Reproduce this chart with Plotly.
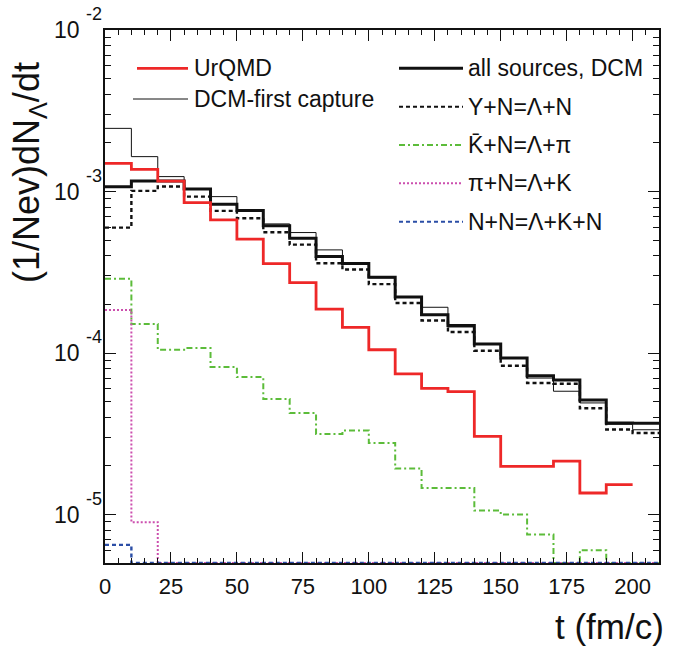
import math
import plotly.graph_objects as go

# Time bins (fm/c): 10 fm/c wide, 0..210
t_edges = [0, 10, 20, 30, 40, 50, 60, 70, 80, 90, 100,
           110, 120, 130, 140, 150, 160, 170, 180, 190, 200, 210]

# (1/Nev) dN_Lambda/dt per bin
urqmd = [1.495e-3, 1.373e-3, 1.16e-3, 8.54e-4, 6.67e-4, 5.07e-4, 3.58e-4,
         2.73e-4, 1.87e-4, 1.44e-4, 1.048e-4, 7.43e-5, 6.05e-5, 5.77e-5,
         3.05e-5, 1.99e-5, 1.99e-5, 2.14e-5, 1.36e-5, 1.53e-5]
dcm_first = [2.46e-3, 1.644e-3, 1.237e-3, 1.04e-3, 9.30e-4, 7.62e-4, 6.30e-4,
             5.57e-4, 4.35e-4, 3.57e-4, 2.92e-4, 2.22e-4, 1.92e-4, 1.45e-4,
             1.136e-4, 9.31e-5, 7.0e-5, 5.8e-5, 4.91e-5, 3.62e-5, 3.35e-5]
dcm_all = [1.07e-3, 1.163e-3, 1.163e-3, 1.038e-3, 8.34e-4, 7.62e-4, 6.13e-4,
           5.14e-4, 3.96e-4, 3.58e-4, 2.95e-4, 2.22e-4, 1.725e-4, 1.48e-4,
           1.136e-4, 9.31e-5, 7.24e-5, 6.8e-5, 5.12e-5, 3.69e-5, 3.67e-5]
yn = [5.98e-4, 1.009e-3, 1.073e-3, 9.30e-4, 7.59e-4, 6.83e-4, 5.60e-4,
      4.69e-4, 3.60e-4, 3.29e-4, 2.67e-4, 2.04e-4, 1.59e-4, 1.35e-4,
      1.033e-4, 8.35e-5, 6.52e-5, 6.45e-5, 4.55e-5, 3.36e-5, 3.2e-5]
kbar_n = [2.88e-4, 1.51e-4, 1.048e-4, 1.073e-4, 8.19e-5, 7.10e-5, 5.19e-5,
          4.25e-5, 3.15e-5, 3.31e-5, 2.77e-5, 1.93e-5, 1.46e-5, 1.46e-5,
          1.058e-5, 1.0e-5, 7.52e-6, 0, 6.02e-6, 0, 0]
pi_n = [1.85e-4, 8.97e-6, 0, 0, 0, 0, 0, 0, 0, 0, 0,
        0, 0, 0, 0, 0, 0, 0, 0, 0, 0]
n_n = [6.49e-6, 0, 0, 0, 0, 0, 0, 0, 0, 0, 0,
       0, 0, 0, 0, 0, 0, 0, 0, 0, 0]

x_ticks = [0, 25, 50, 75, 100, 125, 150, 175, 200]
y_decades = [1e-5, 1e-4, 1e-3, 1e-2]
y_mantissa = ["10", "10", "10", "10"]
y_exponents = ["-5", "-4", "-3", "-2"]

LOG_MIN, LOG_MAX = -5.3, -2.0
FLOOR = 10 ** LOG_MIN  # empty bins are drawn on the lower frame edge

FONT = "Liberation Sans, Arial, Helvetica, sans-serif"
INK = "#111111"
W, H = 681, 651
ML, MR, MT, MB = 105, 22, 30, 88
PW, PH = W - ML - MR, H - MT - MB


def step(vals):
    xs = t_edges[:len(vals) + 1]
    ys = [v if v > 0 else FLOOR for v in vals]
    return xs, ys + [ys[-1]]


def px(x):
    return (x - ML) / PW


def py(y):
    return (H - MB - y) / PH


series = [
    # name, values, colour, width, dash
    ("all sources, DCM", dcm_all, INK, 3.0, "solid"),
    ("Y+N=Λ+N", yn, INK, 2.4, "4px,3px"),
    ("K̄+N=Λ+π", kbar_n, "#5cbc3a", 2.0, "6px,3px,2px,3px"),
    ("π+N=Λ+K", pi_n, "#cc4fae", 2.0, "2px,2px"),
    ("N+N=Λ+K+N", n_n, "#2b4ea6", 2.4, "4px,3px"),
    ("DCM-first capture", dcm_first, INK, 1.0, "solid"),
    ("UrQMD", urqmd, "#ee2828", 2.8, "solid"),
]

fig = go.Figure()
for name, vals, col, w, dash in series:
    xs, ys = step(vals)
    fig.add_trace(go.Scatter(x=xs, y=ys, mode="lines", name=name,
                             line=dict(color=col, width=w, dash=dash, shape="hv"),
                             showlegend=False))

# legend keys and labels (two columns)
shapes, annots = [], []
left_rows = [("UrQMD", "#ee2828", 2.8, "solid", 137, 68.3),
             ("DCM-first capture", INK, 1.0, "solid", 133, 99.0)]
for label, col, w, dash, x0, yy in left_rows:
    shapes.append(dict(type="line", xref="paper", yref="paper",
                       x0=px(x0), x1=px(188), y0=py(yy), y1=py(yy),
                       line=dict(color=col, width=w, dash=dash)))
    annots.append(dict(text=label, xref="paper", yref="paper", x=px(192), y=py(yy),
                       xanchor="left", yanchor="middle", showarrow=False,
                       font=dict(family=FONT, size=23, color=INK)))

right_y = [68.3, 106.7, 145.0, 183.3, 221.7]
for i, yy in enumerate(right_y):
    name, vals, col, w, dash = series[i]
    shapes.append(dict(type="line", xref="paper", yref="paper",
                       x0=px(399), x1=px(463), y0=py(yy), y1=py(yy),
                       line=dict(color=col, width=w if i == 0 else 2.0, dash=dash)))
    annots.append(dict(text=name, xref="paper", yref="paper", x=px(466), y=py(yy),
                       xanchor="left", yanchor="middle", showarrow=False,
                       font=dict(family=FONT, size=23, color=INK)))

# decade exponents, raised beside the "10" tick labels
for dec, ex in zip(y_decades, y_exponents):
    annots.append(dict(text=ex, xref="paper", yref="y", x=px(104), y=math.log10(dec),
                       xanchor="right", yanchor="middle", yshift=16, showarrow=False,
                       font=dict(family=FONT, size=18, color=INK)))

# axis titles
annots.append(dict(text="(1/Nev)dN<sub>Λ</sub>/dt", xref="paper", yref="paper",
                   x=px(29), y=py(173), xanchor="center", yanchor="middle",
                   textangle=-90, showarrow=False,
                   font=dict(family=FONT, size=36, color=INK)))
annots.append(dict(text="t (fm/c)", xref="paper", yref="paper",
                   x=px(666), y=py(626), xanchor="right", yanchor="middle",
                   showarrow=False, font=dict(family=FONT, size=35, color=INK)))

y_minor = [k * 10 ** e for e in (-6, -5, -4, -3) for k in range(2, 10)
           if LOG_MIN < e + math.log10(k) < LOG_MAX]

fig.update_layout(
    width=W, height=H,
    margin=dict(l=ML, r=MR, t=MT, b=MB),
    paper_bgcolor="white", plot_bgcolor="white",
    shapes=shapes, annotations=annots,
    font=dict(family=FONT, color=INK),
    xaxis=dict(range=[0, 210], tickmode="array", tickvals=x_ticks,
               ticks="inside", ticklen=11, tickwidth=1, tickcolor=INK,
               minor=dict(ticks="inside", dtick=5, tick0=0, ticklen=5,
                          tickwidth=1, tickcolor=INK, showgrid=False),
               showline=True, linecolor=INK, linewidth=1.5, mirror="ticks",
               showgrid=False, zeroline=False,
               tickfont=dict(family=FONT, size=22, color=INK),
               ticklabelstandoff=3),
    yaxis=dict(type="log", range=[LOG_MIN, LOG_MAX], tickmode="array",
               tickvals=y_decades, ticktext=y_mantissa,
               ticks="inside", ticklen=11, tickwidth=1, tickcolor=INK,
               minor=dict(ticks="inside", tickmode="array", tickvals=y_minor,
                          ticklen=6, tickwidth=1, tickcolor=INK, showgrid=False),
               showline=True, linecolor=INK, linewidth=1.5, mirror="ticks",
               showgrid=False, zeroline=False,
               tickfont=dict(family=FONT, size=23, color=INK),
               ticklabelstandoff=19),
)

fig.write_html("out.html")
